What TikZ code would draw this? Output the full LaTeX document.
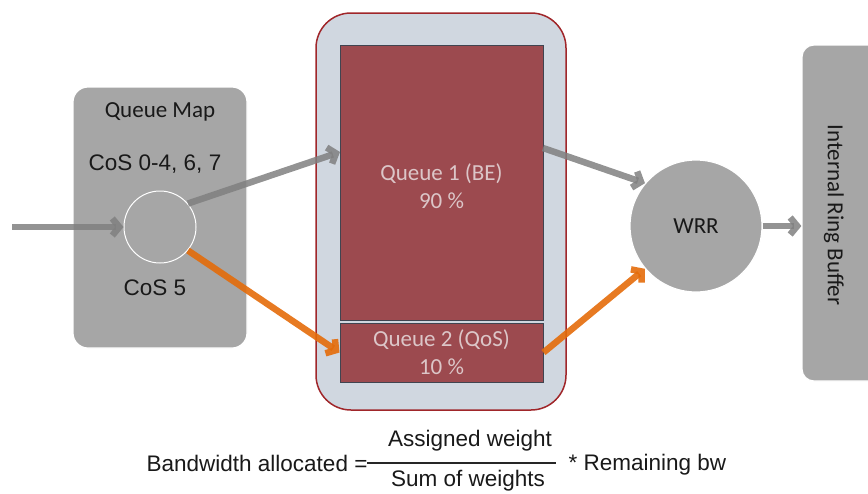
\documentclass[tikz,border=0pt]{standalone}
\usepackage{fontspec}
\setmainfont{Liberation Sans}
\newfontfamily\calib{Carlito}
\usetikzlibrary{arrows.meta,calc}
\definecolor{boxgray}{HTML}{A6A6A6}
\definecolor{contfill}{HTML}{D0D7E0}
\definecolor{contline}{HTML}{A0262A}
\definecolor{qfill}{HTML}{9C4A4F}
\definecolor{qline}{HTML}{404450}
\definecolor{qtext}{HTML}{DCC6C8}
\definecolor{arrgray}{HTML}{808080}
\definecolor{arrorange}{HTML}{E46C0A}
\tikzset{
  graybox/.style={draw=white, line width=1.2pt, fill=boxgray, rounded corners=15pt},
  container/.style={draw=contline, line width=1.5pt, fill=contfill, rounded corners=35pt},
  queuebox/.style={draw=qline, line width=1pt, fill=qfill, text=qtext, align=center, font=\calib\fontsize{23}{28}\selectfont},
  lbl/.style={font=\fontsize{22.5}{26}\selectfont, text=black!90},
  clbl/.style={font=\calib\fontsize{23}{26}\selectfont, text=black!90},
  garrow/.style={draw=arrgray, draw opacity=0.85, line width=6.5pt, -{Straight Barb[length=7pt,width=17pt]}},
  oarrow/.style={draw=arrorange, draw opacity=0.9, line width=6.5pt, -{Straight Barb[length=7pt,width=17pt]}},
}
\begin{document}
\begin{tikzpicture}[x=1pt,y=-1pt]
\useasboundingbox (0,0) rectangle (868,493);
\clip (0,0) rectangle (868,493);
% Queue map box
\node[graybox, minimum width=174pt, minimum height=261pt] (qm) at (160,217.5) {};
\node[clbl] (qmt) at (160,112) {Queue Map};
\node[lbl] (c1) at (155,164) {CoS 0-4, 6, 7};
\node[lbl] (c5) at (155,288) {CoS 5};
\node[circle, draw=white, line width=1pt, fill=boxgray, minimum size=72pt, inner sep=0pt] (sc) at (160,227) {};
\coordinate (in) at (12,227);
% container
\node[container, minimum width=250pt, minimum height=397pt] (cont) at (441,211.5) {};
\node[queuebox, minimum width=203pt, minimum height=275pt] (q1) at (441.5,182.5) {};
\node[text=qtext, align=center, font=\calib\fontsize{23}{28}\selectfont] (q1t) at (441.5,186) {Queue 1 (BE)\\90 \%};
\node[queuebox, minimum width=203pt, minimum height=59pt, inner sep=0pt] (q2) at (441.5,352.5) {Queue 2 (QoS)\\10 \%};
% WRR
\node[circle, draw=white, line width=1.2pt, fill=boxgray, minimum size=132pt, inner sep=0pt, font=\calib\fontsize{23}{26}\selectfont, text=black!90] (wrr) at (696,226) {WRR};
% ring buffer
\node[graybox, rounded corners=12pt, minimum width=100pt, minimum height=336pt] (rb) at (852,213) {};
\node[clbl, rotate=-90] (rbt) at (834,215) {Internal Ring Buffer};
% arrows
\coordinate (q1in) at (340,152);
\coordinate (q1out) at (543,148);
\draw[garrow] (in) -- (sc.west);
\draw[garrow] (sc.40) -- (q1in);
\draw[oarrow] (sc.-40) -- (q2.west);
\draw[garrow] (q1out) -- (wrr.140);
\draw[oarrow] (q2.east) -- (wrr.-140);
\draw[garrow] (wrr.east) -- (wrr.east -| rb.west);
% formula
\node[lbl, anchor=east] (bw) at (371,463) {Bandwidth allocated =};
\node[lbl] (num) at (470,441) {Assigned weight};
\node[lbl] (den) at (468,481) {Sum of weights};
\draw[line width=2pt, black!85] (bw.east) ++(-4,0) coordinate (barL) -- (556,463) coordinate (barR);
\node[lbl, anchor=west] (rem) at (565,465) {* Remaining bw};
\end{tikzpicture}
\end{document}
